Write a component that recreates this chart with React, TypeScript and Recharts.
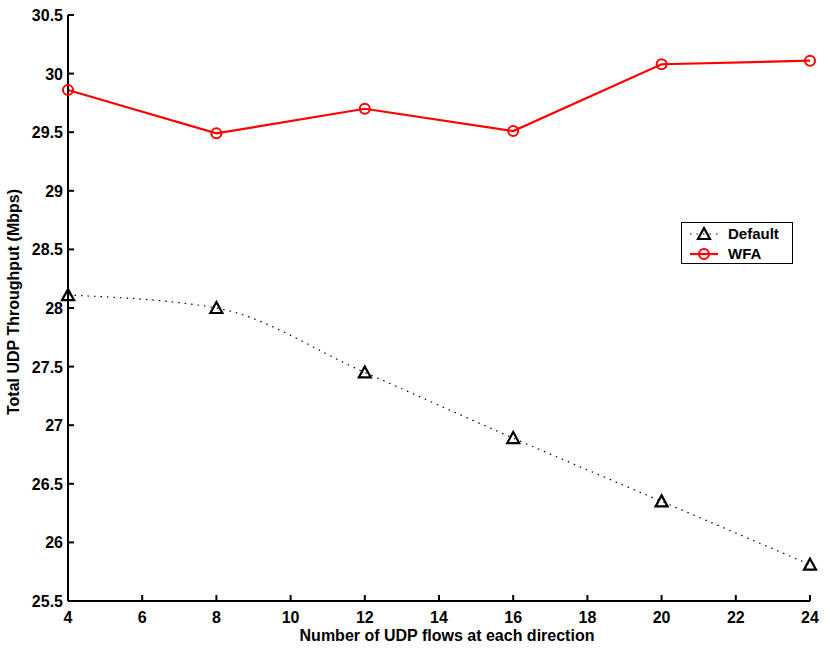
import { LineChart, Line, XAxis, YAxis } from 'recharts';

const flows = [4, 8, 12, 16, 20, 24];
const defaultThroughput = [28.11, 28.0, 27.45, 26.89, 26.35, 25.81];
const wfaThroughput = [29.86, 29.49, 29.7, 29.51, 30.08, 30.11];
const xTicks = [4, 6, 8, 10, 12, 14, 16, 18, 20, 22, 24];
const yTicks = [25.5, 26, 26.5, 27, 27.5, 28, 28.5, 29, 29.5, 30, 30.5];

const data = flows.map((f, i) => ({
  flows: f,
  def: defaultThroughput[i],
  wfa: wfaThroughput[i]
}));

const FONT = '"Liberation Sans", Arial, Helvetica, sans-serif';

const Triangle = (props: any) => {
  const { cx, cy } = props;
  if (cx == null || cy == null) return null;
  return (
    <path
      d={`M${cx},${cy - 6} L${cx + 6},${cy + 5} L${cx - 6},${cy + 5} Z`}
      fill="none"
      stroke="#000"
      strokeWidth={2.2}
    />
  );
};

const Ring = (props: any) => {
  const { cx, cy } = props;
  if (cx == null || cy == null) return null;
  return <circle cx={cx} cy={cy} r={5} fill="none" stroke="#ff0000" strokeWidth={2} />;
};

const YTick = (props: any) => {
  const { x, y, payload } = props;
  return (
    <g>
      <line x1={x} y1={y} x2={x + 6} y2={y} stroke="#000" strokeWidth={2} />
      <text x={x - 5} y={y + 6} textAnchor="end" fontSize={16} fontWeight="bold" fontFamily={FONT} fill="#000">
        {payload.value}
      </text>
    </g>
  );
};

const XTick = (props: any) => {
  const { x, y, payload } = props;
  return (
    <g>
      <line x1={x} y1={y} x2={x} y2={y - 6} stroke="#000" strokeWidth={2} />
      <text x={x} y={y + 22} textAnchor="middle" fontSize={16} fontWeight="bold" fontFamily={FONT} fill="#000">
        {payload.value}
      </text>
    </g>
  );
};

// legend drawn as an overlay so it doesn't take room from the plot
const LegendBox = () => (
  <div
    style={{
      position: 'absolute',
      left: 681,
      top: 222,
      width: 112,
      height: 42,
      border: '1px solid #000',
      background: '#fff',
      boxSizing: 'border-box'
    }}
  >
    <svg width={110} height={40} style={{ display: 'block' }}>
      <line x1={8} y1={11} x2={36} y2={11} stroke="#000" strokeWidth={1.2} strokeDasharray="1.5 5" />
      <Triangle cx={22} cy={11} />
      <text x={46} y={16} fontSize={15} fontWeight="bold" fontFamily={FONT}>Default</text>
      <line x1={8} y1={31} x2={36} y2={31} stroke="#ff0000" strokeWidth={2.2} />
      <Ring cx={22} cy={31} />
      <text x={46} y={36} fontSize={15} fontWeight="bold" fontFamily={FONT}>WFA</text>
    </svg>
  </div>
);

export default function App() {
  return (
    <div style={{ position: 'absolute', left: 0, top: 0, width: 830, height: 651, background: '#fff' }}>
      <LineChart width={830} height={651} data={data} margin={{ top: 15, right: 20, left: 18, bottom: 10 }}>
        <XAxis
          dataKey="flows"
          type="number"
          domain={[4, 24]}
          ticks={xTicks}
          interval={0}
          tickSize={0}
          tickMargin={0}
          tickLine={false}
          height={40}
          axisLine={{ stroke: '#000', strokeWidth: 2 }}
          tick={<XTick />}
          label={{
            content: (p: any) => (
              <text
                x={p.viewBox.x + p.viewBox.width / 2 + 8}
                y={p.viewBox.y + 40}
                textAnchor="middle"
                fontSize={16}
                fontWeight="bold"
                fontFamily={FONT}
              >
                Number of UDP flows at each direction
              </text>
            )
          }}
        />
        <YAxis
          type="number"
          domain={[25.5, 30.5]}
          ticks={yTicks}
          interval={0}
          tickSize={0}
          tickMargin={0}
          tickLine={false}
          width={50}
          axisLine={{ stroke: '#000', strokeWidth: 2 }}
          tick={<YTick />}
          label={{
            content: (p: any) => {
              const cx = p.viewBox.x + 1;
              const cy = p.viewBox.y + p.viewBox.height / 2 - 6;
              return (
                <text
                  x={cx}
                  y={cy}
                  transform={`rotate(-90 ${cx} ${cy})`}
                  textAnchor="middle"
                  fontSize={16}
                  fontWeight="bold"
                  fontFamily={FONT}
                >
                  Total UDP Throughput (Mbps)
                </text>
              );
            }
          }}
        />
        <Line
          dataKey="def"
          type="monotone"
          stroke="#000"
          strokeWidth={1.2}
          strokeDasharray="1.5 5"
          dot={<Triangle />}
          activeDot={false}
          isAnimationActive={false}
        />
        <Line
          dataKey="wfa"
          type="linear"
          stroke="#ff0000"
          strokeWidth={2.2}
          dot={<Ring />}
          activeDot={false}
          isAnimationActive={false}
        />
      </LineChart>
      <LegendBox />
    </div>
  );
}
